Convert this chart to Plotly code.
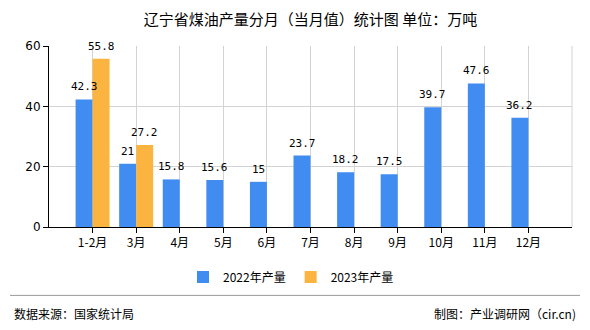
import plotly.graph_objects as go

categories = ["1-2月", "3月", "4月", "5月", "6月", "7月", "8月", "9月", "10月", "11月", "12月"]
values_2022 = [42.3, 21, 15.8, 15.6, 15, 23.7, 18.2, 17.5, 39.7, 47.6, 36.2]
values_2023 = [55.8, 27.2]
series_names = ["2022年产量", "2023年产量"]
y_ticks = [0, 20, 40, 60]

title_text = "辽宁省煤油产量分月（当月值）统计图 单位：万吨"
source_text = "数据来源：国家统计局"
credit_text = "制图：产业调研网（cir.cn)"

font_cjk = "Noto Sans CJK SC, DejaVu Sans, sans-serif"
blue = "#418CF0"
orange = "#FCB441"
label_font = dict(size=11, color="#000000", family="DejaVu Sans Mono, monospace")
bargap = 0.22
cat_px = 523 / 12  # pixel width of one category slot
bar_shift = (1 - bargap) / 4 * cat_px  # half of one bar's width in pixels

fig = go.Figure()
fig.add_trace(go.Bar(
    x=categories, y=values_2022, name=series_names[0],
    marker=dict(color=blue, line=dict(width=0)),
))
fig.add_trace(go.Bar(
    x=categories[:len(values_2023)], y=values_2023, name=series_names[1],
    marker=dict(color=orange, line=dict(width=0)),
))

for series, sign in ((values_2022, -1), (values_2023, 1)):
    for cat, v in zip(categories, series):
        fig.add_annotation(x=cat, y=v, text=f"{v:g}", showarrow=False,
                           xanchor="center", yanchor="bottom",
                           xshift=sign * bar_shift, yshift=4,
                           font=label_font)

fig.update_layout(
    width=590, height=330,
    margin=dict(l=49, r=18, t=46, b=101),
    paper_bgcolor="white", plot_bgcolor="white",
    barmode="group", bargap=bargap, bargroupgap=0,
    font=dict(family=font_cjk, size=12, color="#000000"),
    title=dict(text=title_text, x=0.5, xref="paper", xanchor="center",
               y=1 - 20 / 330, yref="container", yanchor="middle",
               font=dict(size=15, family=font_cjk, color="#000000")),
    legend=dict(orientation="h", x=291 / 590, xref="container", xanchor="center",
                y=(329 - 276) / 330, yref="container", yanchor="middle",
                font=dict(size=12, family=font_cjk), itemwidth=30,
                traceorder="normal", itemclick=False),
    showlegend=True,
)
fig.update_xaxes(
    type="category", categoryorder="array", categoryarray=categories,
    range=[-1, 11],
    showgrid=True, gridcolor="#D3D3D3", gridwidth=1,
    showline=True, linecolor="#000000", linewidth=1,
    ticks="outside", ticklen=5, tickcolor="#000000",
    tickfont=dict(size=12, family=font_cjk),
    zeroline=False,
)
fig.update_yaxes(
    range=[0, 60], tickvals=y_ticks,
    showgrid=True, gridcolor="#D3D3D3", gridwidth=1,
    showline=True, linecolor="#000000", linewidth=1,
    ticks="outside", ticklen=5, tickcolor="#000000",
    tickfont=dict(size=12, family="DejaVu Sans, sans-serif"),
    zeroline=False,
)

fig.add_shape(type="line", xref="paper", yref="paper", x0=1, x1=1, y0=0, y1=1,
              line=dict(color="#D3D3D3", width=1), layer="below")
fig.add_shape(type="line", xref="paper", yref="paper",
              x0=(10 - 49) / 523, x1=(580 - 49) / 523,
              y0=(229 - 298) / 183, y1=(229 - 298) / 183,
              line=dict(color="#999999", width=1))
fig.add_annotation(text=source_text, xref="paper", yref="paper",
                   x=(12 - 49) / 523, xanchor="left",
                   y=(229 - 316) / 183, yanchor="middle", showarrow=False,
                   font=dict(size=12, family=font_cjk, color="#000000"))
fig.add_annotation(text=credit_text, xref="paper", yref="paper",
                   x=(578 - 49) / 523, xanchor="right",
                   y=(229 - 316) / 183, yanchor="middle", showarrow=False,
                   font=dict(size=12, family=font_cjk, color="#000000"))

fig.write_html("out.html")
